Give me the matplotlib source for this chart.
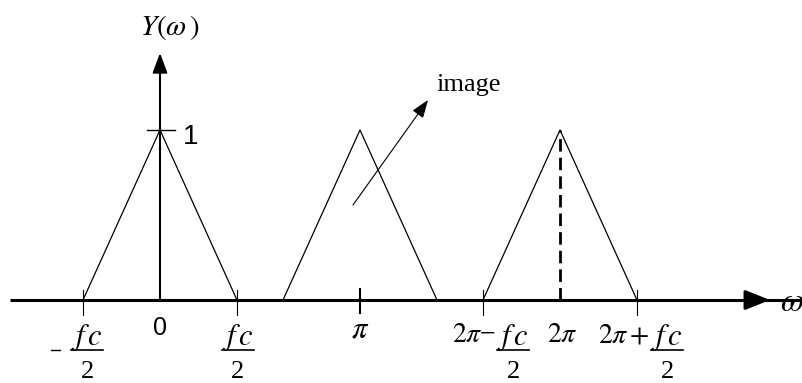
import numpy as np
import matplotlib
matplotlib.use("Agg")
from matplotlib import pyplot as plt

# spectrum copies, x in units of pi
centers = [0.0, 1.0, 2.0]
half_width = 0.385          # fc/2
peak = 1.0

# x-axis tick marks
small_ticks = [-half_width, half_width, 2 - half_width, 2 + half_width]
pi_tick = 1.0

plt.rcParams["mathtext.fontset"] = "stix"
plt.rcParams["font.family"] = ["Liberation Serif", "DejaVu Sans"]

W, H = 803, 383
fig = plt.figure(figsize=(W / 100, H / 100), dpi=100)
ax = fig.add_axes([0, 0, 1, 1])
ax.axis("off")

# 200 px per pi horizontally, 170 px per unit vertically
PX = 1 / 200
PY = 1 / 170
ax.set_xlim(-160 * PX, (W - 160) * PX)
ax.set_ylim(-(H - 300) * PY, 300 * PY)

# axes with arrows
ax.plot([-150 * PX, 750 * PX], [0, 0], color="black", lw=2.2, solid_capstyle="butt")
ax.annotate("", xy=(610 * PX, 0), xytext=(585 * PX, 0),
            arrowprops=dict(arrowstyle="-|>,head_length=1.5,head_width=0.6",
                            color="black", lw=2.2, shrinkA=0, shrinkB=0))
ax.plot([0, 0], [0, 235 * PY], color="black", lw=1.5)
ax.annotate("", xy=(0, 247 * PY), xytext=(0, 225 * PY),
            arrowprops=dict(arrowstyle="-|>,head_length=1.2,head_width=0.45",
                            color="black", lw=1.5, shrinkA=0, shrinkB=0))

# triangles
for c in centers:
    ax.plot([c - half_width, c, c + half_width], [0, peak, 0],
            color="black", lw=0.9)

# dashed line at 2pi
ax.plot([centers[2], centers[2]], [0, peak], color="black", lw=2.0,
        linestyle=(0, (4.5, 2.2)))

# ticks
for t in small_ticks:
    ax.plot([t, t], [10 * PY, -15 * PY], color="black", lw=0.8)
ax.plot([pi_tick, pi_tick], [11 * PY, -13 * PY], color="black", lw=1.5)
ax.plot([-13 * PX, 15 * PX], [peak, peak], color="black", lw=1.0)

# labels
ax.text(170 * PX - 160 * PX, 265 * PY, r"$Y(\omega\,)$", fontsize=21,
        ha="center", va="baseline")
ax.text(23 * PX, peak - 14 * PY, "1", fontsize=20, family="Liberation Sans",
        ha="left", va="baseline")
ax.text(0, -35 * PY, "0", fontsize=18, family="Liberation Sans",
        ha="center", va="baseline")
ax.text(pi_tick, -38 * PY, r"$\pi$", fontsize=22, ha="center", va="baseline")
ax.text(centers[2] + 2 * PX, -42 * PY, r"$2\pi$", fontsize=20,
        ha="center", va="baseline")
ax.text(620 * PX, -11 * PY, r"$\omega$", fontsize=24, ha="left", va="baseline")


def frac(xc):
    ax.text(xc, -45 * PY, r"$f\,c$", fontsize=22, ha="center", va="baseline")
    ax.plot([xc - 16 * PX, xc + 16 * PX], [-50 * PY, -50 * PY], color="black", lw=1.2)
    ax.text(xc, -78 * PY, "2", fontsize=19, ha="center", va="baseline")


frac(-half_width + 4 * PX)
ax.plot([-half_width - 32 * PX, -half_width - 23 * PX], [-50 * PY, -50 * PY],
        color="black", lw=1.0)
frac(half_width + 1 * PX)
frac(2 - half_width + 30 * PX)
ax.text(2 - half_width + 13 * PX, -42 * PY, r"$2\pi$" + "\u2212", fontsize=20,
        ha="right", va="baseline")
frac(2 + half_width + 30 * PX)
ax.text(2 + half_width + 13 * PX, -42 * PY, r"$2\pi+$", fontsize=20,
        ha="right", va="baseline")

# "image" annotation
ax.annotate("", xy=(428 * PX - 160 * PX, (300 - 100) * PY),
            xytext=(353 * PX - 160 * PX, (300 - 205) * PY),
            arrowprops=dict(arrowstyle="-|>,head_length=1.1,head_width=0.4",
                            color="black", lw=0.8, shrinkA=0, shrinkB=0))
ax.text(436 * PX - 160 * PX, (300 - 91) * PY, "image", fontsize=19,
        ha="left", va="baseline")

fig.savefig("out.png", dpi=100)
